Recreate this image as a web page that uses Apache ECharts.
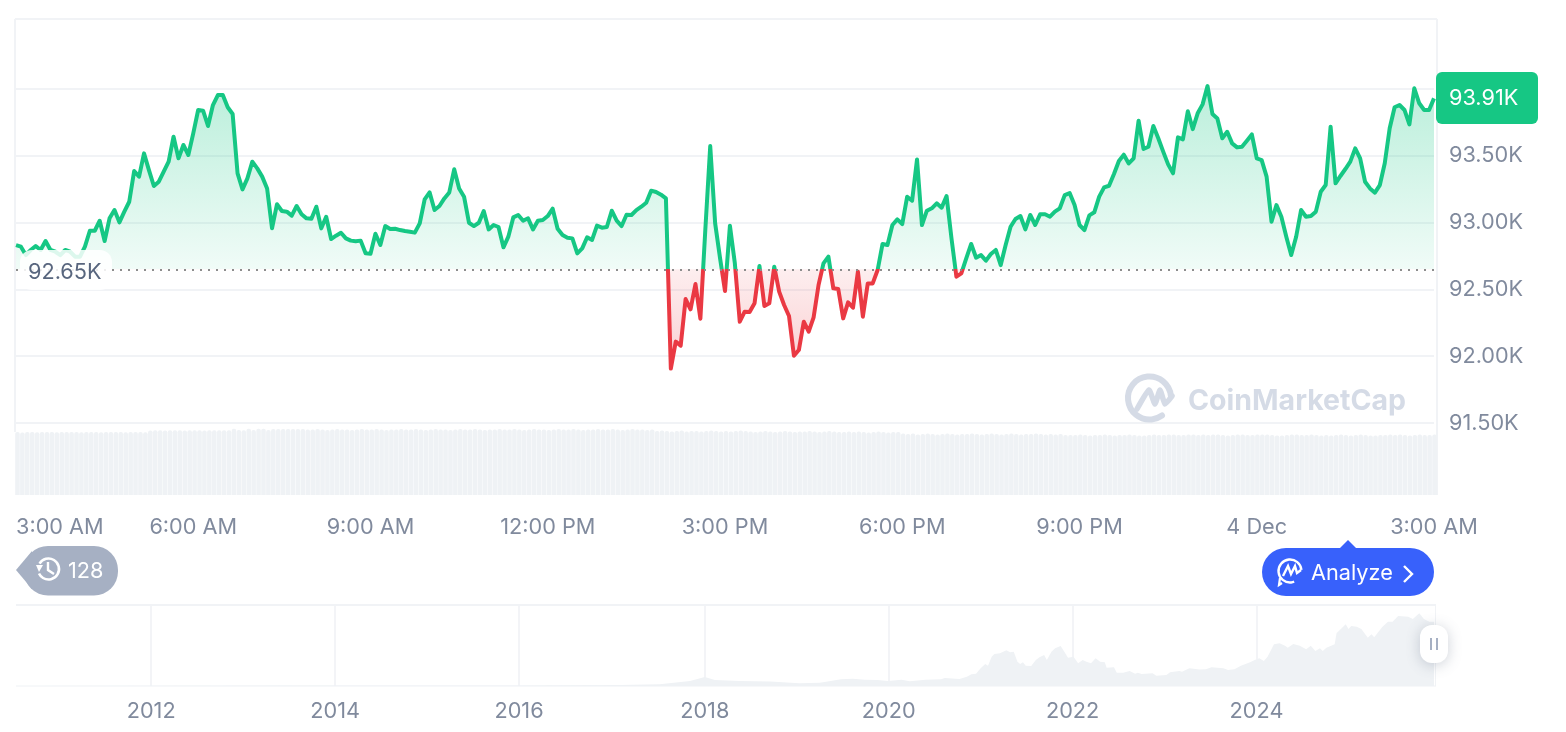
<!DOCTYPE html>
<html><head><meta charset="utf-8">
<style>html,body{margin:0;padding:0;background:#fff}#c{width:1566px;height:732px}</style>
<script src="https://cdn.jsdelivr.net/npm/echarts@6/dist/echarts.min.js"></script>
</head><body><div id="c"></div>
<script>
const prices = [92832,92820,92757,92795,92825,92795,92862,92795,92782,92757,92795,92782,92745,92745,92820,92939,92939,93014,92862,93032,
93094,93002,93082,93156,93386,93344,93518,93393,93274,93306,93381,93456,93643,93481,93581,93506,93668,93843,93838,93723,
93880,93955,93955,93863,93813,93369,93249,93331,93456,93406,93344,93256,92957,93137,93087,93082,93052,93124,93062,93032,
93029,93119,92957,93044,92877,92902,92924,92882,92865,92860,92865,
92770,92767,92917,92832,92974,92952,92954,92944,92937,92932,92925,92994,93174,93226,93094,93124,93181,93226,93399,93256,
93194,92999,92974,92999,93087,92949,92982,92967,92815,92895,93039,93057,93014,93032,92949,93014,93019,93049,93104,92954,
92907,92887,92882,92770,92807,92890,92870,92977,92962,92967,93089,93014,92974,93059,93057,93094,93119,93149,93239,93229,
93209,93181,91907,92109,92079,92428,92351,92540,92281,
92945,93573,92994,92732,92488,92977,92695,92258,92333,92331,92396,92675,92376,92396,92670,92483,92383,92301,92004,92046,
92258,92184,92291,92533,92695,92745,92508,92503,92283,92403,92363,92633,92296,92545,92545,92645,92840,92832,92982,93024,
92989,93194,93164,93473,92982,93089,93107,93144,93112,93199,92882,92595,92620,92732,92840,92737,92757,92715,92765,92795,
92682,92832,92969,
93027,93049,92949,93057,92982,93062,93062,93044,93082,93107,93206,93221,93131,92982,92944,93054,93077,93194,93264,93276,
93364,93461,93508,93443,93481,93763,93551,93568,93723,93631,93531,93436,93369,93638,93623,93833,93700,93818,93885,94022,
93813,93780,93631,93680,93593,93563,93568,93613,93660,93481,93468,93344,93007,93131,93044,92894,92757,92894,93094,93044,
93049,93082,93231,93281,93718,93294,93349,93401,93456,93556,93481,
93306,93256,93224,93281,93444,93706,93863,93880,93843,93735,94005,93893,93843,93843,93930];
const volumes = [63,62.5,63,63,62.8,63,63,63,62.8,63,63,63,63,62.8,63,63,63,62.8,63,63,63,63,62.8,63,63,63,62.8,
64.6,64.8,64.8,64.6,64.8,64.8,64.8,64.6,64.8,64.8,64.8,64.6,64.8,64.8,64.8,64.8,64.8,66.2,65,64.8,66.2,65,66.2,66.2,65,66,66,66,66,66,66,66,
65.5,65.5,66,65.5,65,65.5,66,65.5,65.5,65,65.5,66,65.5,65.5,66,65.5,65,65.5,65.5,66,65.5,65.5,66,65.5,65,65.5,66,65.5,65.5,65,65.5,
66,65.5,65.5,66,65.5,65,65.5,65.5,66,65.5,65.5,66,65.5,65,65.5,66,65.5,65.5,65,65.5,66,65.5,65.5,66,65.5,65,65.5,65.5,66,65.5,
65.5,66,65.5,65,65.5,66,65.5,65.5,65,65.5,64,64.5,64,63.5,64,64.5,63.5,64,64,63.5,
64,64.5,64,63.5,64,63.5,64,64.5,64,63.5,63,63.5,64,63.5,63,63.5,64,63.5,63,63.5,
63.5,64,63.5,63,63.5,64,63.5,63,63,63.5,63,63.5,63,62.5,63,63.5,63,62.5,63,63,
61.5,61,61.5,60.5,61,61.5,61,60.5,61,61.5,61,60.5,61,61,61.5,61,60.5,61,61.5,61,
60.5,61,61.5,61,60.5,61,61,61.5,61,60.5,61,60.5,61,60,60,60,60.5,60,59.5,60,
60,60.5,60,59.5,60,60,60.5,60,59.5,59.5,60,60.5,60,60,60.5,60.5,60,60,60.5,60.5,
60,60.5,60,60.5,60.5,60,59.5,60,60.5,60.5,60,60,60.5,60.5,60.5,60,59.5,59.5,60,60.5,
60.5,60,60,60.5,60,59.5,60,59.5,60,60.5,60,59.5,60,60.5,60,59.5,59.5,60,60,60.5,
60,60.5,60,59.5,60,60.5,60,60,60.5];
const timeTickLabels = ['3:00 AM','6:00 AM','9:00 AM','12:00 PM','3:00 PM','6:00 PM','9:00 PM','4 Dec','3:00 AM'];
const priceTicks = [91500,92000,92500,93000,93500,94000];
const priceLabelTicks = [91500,92000,92500,93000,93500];
const basePrice = 92650;
const lastPriceLabel = '93.91K';
const overviewYears = [2010.53,2012,2014,2016,2017.1,2017.53,2017.86,2018.02,2018.13,2018.4,2018.73,2019.05,2019.27,2019.39,2019.5,2019.63,2019.76,2019.9,2020.01,2020.16,2020.25,2020.42,2020.59,2020.63,
2020.79,2020.87,2020.92,2020.97,2021.02,2021.07,2021.10,2021.14,2021.17,2021.23,2021.30,2021.34,2021.38,2021.42,2021.45,2021.48,2021.51,2021.57,2021.62,2021.66,2021.71,2021.74,2021.79,2021.83,2021.89,2021.93,2021.97,
2022.03,2022.08,2022.13,2022.17,2022.19,2022.22,2022.27,2022.32,2022.37,2022.39,2022.47,2022.50,2022.57,2022.64,2022.70,2022.73,2022.77,2022.89,2022.93,2023.04,2023.08,2023.18,2023.21,2023.29,
2023.40,2023.47,2023.53,2023.66,2023.71,2023.78,2023.85,2023.95,2024.00,2024.05,2024.10,2024.14,2024.21,2024.27,2024.33,2024.36,2024.42,2024.49,2024.56,2024.61,2024.66,2024.71,2024.74,2024.78,2024.87,2024.89,2024.99,
2025.02,2025.05,2025.11,2025.16,2025.23,2025.27,2025.30,2025.39,2025.45,2025.50,2025.56,2025.67,2025.72,2025.79,2025.84,2025.90,2025.95];
const overviewLevels = [0,0.3,0.6,0.5,1,1.8,5,9,6,5,4.5,2.7,3.3,5,6.7,7.3,6.3,6,5,6.3,4.7,6.3,6.7,8,
7,9.3,11.7,12.3,17.7,22,20.3,29.3,32,32.7,35.7,33.7,34.3,24.3,22,23.7,20.3,20,26,28.7,31,26,34.3,37.7,40,34.3,28.3,
29.3,22.7,26,24.3,26,22.7,27.7,24.3,23.7,18.3,18.7,13.3,13.3,15,12.3,13.3,12,12.7,10.3,11,13.7,15,14.3,17.7,
16.5,16.7,18.7,17.7,16,16.7,20.3,23.7,26,27.7,25,29.3,41.7,42.7,40.3,38.3,42,40.3,36.7,40.3,35,37.7,35,38.3,41.7,52.7,61.7,
57,60,59.3,57,48.3,51.7,48.7,59.3,64.3,64.3,70,69.3,67,72.7,67,64.3,64.3];
const overviewYearTicks = [2012,2014,2016,2018.02,2020.02,2022.02,2024.02];

const FONT = 'Inter';
const GREY = '#808a9d', LINE = '#f1f3f6', GREEN = '#16c784', RED = '#ea3943', FILL = '#eff2f5', BLUE = '#3861fb', BADGE = '#a6b0c3', MARK = '#d5dbe6';
const hiPrice = Math.max(...prices), loPrice = Math.min(...prices);
const baseStop = (hiPrice - basePrice) / (hiPrice - loPrice);
const minutes = prices.map((_, i) => i * 5);
const priceData = prices.map((p, i) => [minutes[i], p]);
const overviewData = overviewYears.map((y, i) => [y, overviewLevels[i]]);

const line = (x1,y1,x2,y2,color,w,z) => ({type:'line',silent:true,z:z||1,shape:{x1,y1,x2,y2},style:{stroke:color,lineWidth:w}});
const label = (x,y,text,color,size,weight,z) => ({type:'text',silent:true,z:z||20,x,y,style:{text,fill:color,font:`${weight||400} ${size}px ${FONT}`,verticalAlign:'middle',align:'left'}});

const chart = echarts.init(document.getElementById('c'), null, {renderer:'canvas'});
chart.setOption({
  animation:false,
  backgroundColor:'#fff',
  textStyle:{fontFamily:FONT},
  grid:[
    {left:16,width:1418,top:19,height:476},
    {left:15,width:1422,top:423,height:72},
    {left:16,width:1418,top:605,height:81}
  ],
  xAxis:[
    {type:'value',gridIndex:0,min:0,max:1440,interval:180,axisLine:{show:false},axisTick:{show:false},splitLine:{show:false},
     axisLabel:{color:GREY,fontSize:21.7,fontFamily:FONT,margin:21,alignMinLabel:'left',alignMaxLabel:'center',showMinLabel:true,showMaxLabel:true,hideOverlap:false,
       formatter:v=>timeTickLabels[v/180]}},
    {type:'category',gridIndex:1,data:minutes.map(String),show:false},
    {type:'value',gridIndex:2,min:2010.53,max:2025.95,axisLine:{show:false},axisTick:{show:false,customValues:overviewYearTicks},
     splitLine:{show:true,lineStyle:{color:'#f3f4f7',width:2}},
     axisLabel:{color:GREY,fontSize:21.7,fontFamily:FONT,margin:14,customValues:overviewYearTicks,formatter:v=>String(Math.floor(v))}}
  ],
  yAxis:[
    {type:'value',gridIndex:0,position:'right',min:90961,max:94524,axisLine:{show:false},axisTick:{show:false,customValues:priceTicks},
     splitLine:{show:true,lineStyle:{color:LINE,width:2}},
     axisLabel:{color:GREY,fontSize:21.7,fontFamily:FONT,margin:15,padding:[2,0,0,0],customValues:priceLabelTicks,formatter:v=>(v/1000).toFixed(2)+'K'}},
    {type:'value',gridIndex:1,min:0,max:72,show:false},
    {type:'value',gridIndex:2,min:0,max:81,show:false}
  ],
  visualMap:[{show:false,type:'piecewise',seriesIndex:1,dimension:1,
    pieces:[{gte:basePrice,lte:hiPrice+1000,color:GREEN},{gte:loPrice-1000,lt:basePrice,color:RED}]}],
  series:[
    {type:'bar',name:'Volume',xAxisIndex:1,yAxisIndex:1,data:volumes,barCategoryGap:'8%',z:1,silent:true,
     itemStyle:{color:FILL,borderRadius:[2,2,0,0]}},
    {type:'line',name:'Price',xAxisIndex:0,yAxisIndex:0,data:priceData,showSymbol:false,symbol:'none',z:3,silent:true,clip:false,
     lineStyle:{width:4,join:'round'},
     areaStyle:{origin:basePrice,color:new echarts.graphic.LinearGradient(0,0,0,1,[
       {offset:0,color:'rgba(22,199,132,0.42)'},
       {offset:baseStop,color:'rgba(22,199,132,0.09)'},
       {offset:baseStop,color:'rgba(234,57,67,0.12)'},
       {offset:1,color:'rgba(234,57,67,0.34)'}])},
     markLine:{silent:true,symbol:'none',animation:false,
       lineStyle:{color:'#8d8d8d',type:[2,6],width:2},
       label:{show:false},
       data:[{yAxis:basePrice}]}},
    {type:'line',name:'Overview',xAxisIndex:2,yAxisIndex:2,data:overviewData,showSymbol:false,symbol:'none',silent:true,z:2,
     lineStyle:{width:0},areaStyle:{color:FILL,opacity:1}}
  ],
  graphic:[
    line(15,19,1437,19,LINE,2), line(15,19,15,432,LINE,2), line(1437,19,1437,495,LINE,2),
    line(16,605,1436,605,LINE,2), line(16,686,1436,686,'#eff2f5',1), line(1435.5,605,1435.5,686,LINE,1),
    {type:'rect',silent:true,z:20,shape:{x:20,y:250,width:92,height:40,r:12},style:{fill:'rgba(255,255,255,0.85)'}},
    label(28,272.5,(basePrice/1000).toFixed(2)+'K','#58667e',21.7,400,21),
    {type:'rect',silent:true,z:20,shape:{x:1436,y:72,width:102,height:52,r:6},style:{fill:GREEN}},
    label(1449,98.5,lastPriceLabel,'#fff',21.7),
    {type:'polygon',silent:true,z:20,shape:{points:[[16,570],[32,551],[32,589]]},style:{fill:BADGE}},
    {type:'rect',silent:true,z:20,shape:{x:24,y:546,width:94,height:49.5,r:24},style:{fill:BADGE}},
    {type:'arc',silent:true,z:21,shape:{cx:48.5,cy:569,r:10.5,startAngle:-2.6,endAngle:2.7,clockwise:true},style:{stroke:'#fff',fill:'none',lineWidth:2.6}},
    {type:'polygon',silent:true,z:21,shape:{points:[[36,565],[43,565],[39,572]]},style:{fill:'#fff'}},
    {type:'polyline',silent:true,z:21,shape:{points:[[48,562],[48,570],[54,574]]},style:{stroke:'#fff',fill:'none',lineWidth:2.4}},
    label(68,571,'128','#fff',21.7),
    {type:'polygon',silent:true,z:20,shape:{points:[[1339,549],[1348,540],[1357,549]]},style:{fill:BLUE}},
    {type:'rect',silent:true,z:20,shape:{x:1262,y:548,width:172,height:48,r:24},style:{fill:BLUE}},
    {type:'arc',silent:true,z:21,shape:{cx:1290,cy:571,r:11.5,startAngle:-0.1,endAngle:1.2,clockwise:false},style:{stroke:'#fff',fill:'none',lineWidth:2.4}},
    {type:'polyline',silent:true,z:21,shape:{points:[[1282,583],[1279,585],[1280,578]]},style:{stroke:'#fff',fill:'none',lineWidth:2.2}},
    {type:'polyline',silent:true,z:21,shape:{points:[[1283,576],[1288,566],[1291,574],[1295,566],[1297,573],[1301,570]]},style:{stroke:'#fff',fill:'none',lineWidth:2.4}},
    label(1311,573,'Analyze','#fff',21.7),
    {type:'polyline',silent:true,z:21,shape:{points:[[1404,566],[1412,574],[1404,582]]},style:{stroke:'#fff',fill:'none',lineWidth:2.4}},
    {type:'arc',silent:true,z:2,shape:{cx:1149.5,cy:398,r:21.5,startAngle:-0.1,endAngle:0.95,clockwise:false},style:{stroke:MARK,fill:'none',lineWidth:6,lineCap:'round'}},
    {type:'polyline',silent:true,z:2,shape:{points:[[1137,409],[1149,390],[1155,404],[1160,390],[1165,404],[1172,396]],smooth:0.15},style:{stroke:MARK,fill:'none',lineWidth:5.5,lineCap:'round',lineJoin:'round'}},
    label(1188,401,'CoinMarketCap',MARK,28.5,700,2),
    {type:'rect',silent:true,z:30,shape:{x:1420,y:625,width:28,height:38,r:12},style:{fill:'#fff',shadowBlur:14,shadowColor:'rgba(88,102,126,0.3)',shadowOffsetY:2}},
    line(1431,638,1431,650,BADGE,2,31), line(1437,638,1437,650,BADGE,2,31)
  ]
});
</script></body></html>
